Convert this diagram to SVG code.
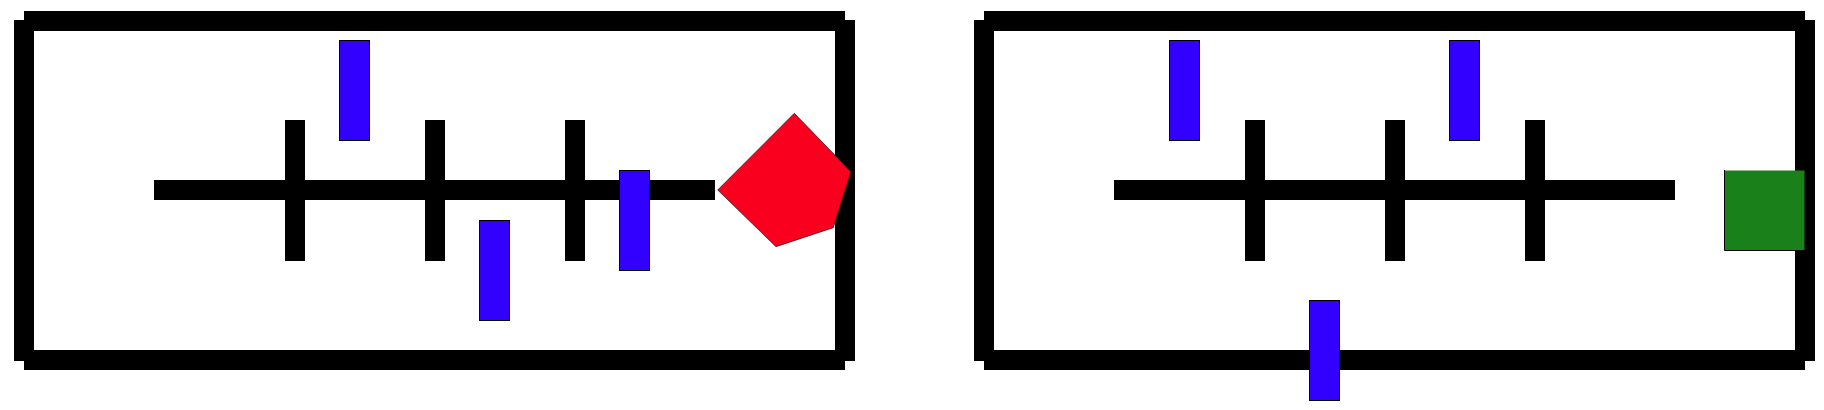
<svg xmlns="http://www.w3.org/2000/svg" width="1824" height="410" viewBox="0 0 1824 410">
<style>
.bar{stroke:#000;stroke-width:20;stroke-linecap:butt;fill:none}
.blue{fill:#3100fe;stroke:#000;stroke-width:1}
.red{fill:#f8001e;stroke:#000;stroke-width:0.6}
.green{fill:#1a8019}
.edge{fill:none;stroke:#000;stroke-width:1}
</style>
<rect width="1824" height="410" fill="#fff"/>
<g id="connectors">
<g id="frame-left">
<line class="bar" x1="24" y1="21" x2="845" y2="21"/>
<line class="bar" x1="24" y1="360" x2="845" y2="360"/>
<line class="bar" x1="24" y1="20" x2="24" y2="361"/>
<line class="bar" x1="845" y1="20" x2="845" y2="361"/>
</g>
<g id="axis-left">
<line class="bar" x1="154" y1="190" x2="715" y2="190"/>
<line class="bar" x1="295" y1="120" x2="295" y2="261"/>
<line class="bar" x1="435" y1="120" x2="435" y2="261"/>
<line class="bar" x1="575" y1="120" x2="575" y2="261"/>
</g>
<g id="frame-right">
<line class="bar" x1="984" y1="21" x2="1805" y2="21"/>
<line class="bar" x1="984" y1="360" x2="1805" y2="360"/>
<line class="bar" x1="984" y1="20" x2="984" y2="361"/>
<line class="bar" x1="1805" y1="20" x2="1805" y2="361"/>
</g>
<g id="axis-right">
<line class="bar" x1="1114" y1="190" x2="1675" y2="190"/>
<line class="bar" x1="1255" y1="120" x2="1255" y2="261"/>
<line class="bar" x1="1395" y1="120" x2="1395" y2="261"/>
<line class="bar" x1="1535" y1="120" x2="1535" y2="261"/>
</g>
</g>
<g id="blue-l1"><rect class="blue" x="339.5" y="40.5" width="30" height="100"/></g>
<g id="blue-l2"><rect class="blue" x="479.5" y="220.5" width="30" height="100"/></g>
<g id="blue-l3"><rect class="blue" x="619.5" y="170.5" width="30" height="100"/></g>
<g id="red-pentagon"><polygon class="red" points="794.3,113.3 851,171.7 833.3,227.7 776,246.7 717.7,190"/></g>
<g id="blue-r1"><rect class="blue" x="1169.5" y="40.5" width="30" height="100"/></g>
<g id="blue-r2"><rect class="blue" x="1449.5" y="40.5" width="30" height="100"/></g>
<g id="blue-r3"><rect class="blue" x="1309.5" y="300.5" width="30" height="100"/></g>
<g id="green-square">
<rect class="green" x="1724.5" y="170.5" width="80" height="80"/>
<polyline class="edge" points="1724.5,170 1724.5,250.5 1804,250.5"/>
</g>
</svg>
